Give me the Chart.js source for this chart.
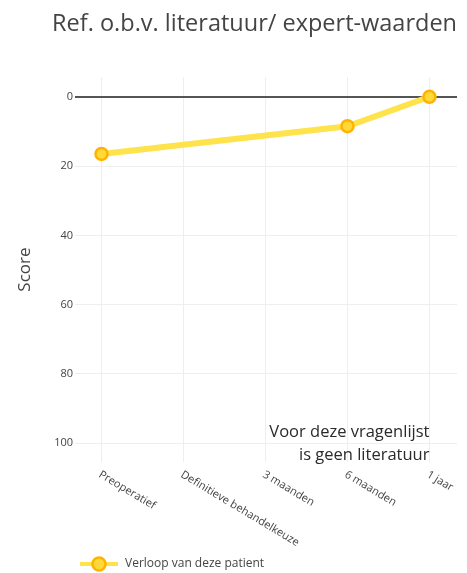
<!DOCTYPE html>
<html>
<head>
<meta charset="utf-8">
<script src="https://cdn.jsdelivr.net/npm/chart.js@4.4.1/dist/chart.umd.min.js"></script>
<style>
    html, body { margin: 0; padding: 0; background: #fff; }
</style>
</head>
<body>
<canvas id="graph01" width="467" height="573"></canvas>
<script>
const categories = ['Preoperatief', 'Definitieve behandelkeuze', '3 maanden', '6 maanden', '1 jaar'];
const scores = [16.5, null, null, 8.5, 0];
const yTicks = [0, 20, 40, 60, 80, 100];
const seriesName = 'Verloop van deze patient';
const chartTitle = 'Ref. o.b.v. literatuur/ expert-waarden';
const noteLines = ['Voor deze vragenlijst', 'is geen literatuur'];

const FONT = "'Open Sans', 'DejaVu Sans', sans-serif";
const TEXT_COLOR = '#444';
const LINE_COLOR = '#ffe34d';
const POINT_FILL = '#ffd83a';
const POINT_BORDER = '#ffb300';

const line01 = document.getElementById('graph01');

// legend icon: line with a marker, like the reference
const legendIcon = document.createElement('canvas');
legendIcon.width = 40;
legendIcon.height = 18;
const ictx = legendIcon.getContext('2d');
ictx.strokeStyle = LINE_COLOR;
ictx.lineWidth = 4;
ictx.beginPath();
ictx.moveTo(1, 9);
ictx.lineTo(39, 9);
ictx.stroke();
ictx.beginPath();
ictx.arc(20, 9, 6.5, 0, Math.PI * 2);
ictx.fillStyle = POINT_FILL;
ictx.fill();
ictx.lineWidth = 2.5;
ictx.strokeStyle = POINT_BORDER;
ictx.stroke();

const extras = {
    id: 'extras',
    afterLayout(chart) {
        // move legend item right and a bit down
        const l = chart.legend;
        l.left += 75;
        l.right += 75;
        l.top += 7;
        l.bottom += 7;
    },
    afterDraw(chart) {
        const ctx = chart.ctx;
        const x = chart.scales.x;
        const area = chart.chartArea;

        // rotated category labels
        ctx.save();
        ctx.font = '11px ' + FONT;
        ctx.fillStyle = TEXT_COLOR;
        ctx.textAlign = 'left';
        ctx.textBaseline = 'top';
        categories.forEach((c, i) => {
            ctx.save();
            ctx.translate(x.getPixelForValue(i) + 1, area.bottom + 7);
            ctx.rotate(31 * Math.PI / 180);
            ctx.fillText(c, 0, 0);
            ctx.restore();
        });
        ctx.restore();

        // note
        ctx.save();
        ctx.font = '16.5px ' + FONT;
        ctx.fillStyle = '#2a2a2a';
        ctx.textAlign = 'right';
        ctx.textBaseline = 'alphabetic';
        const nx = x.getPixelForValue(categories.length - 1);
        ctx.fillText(noteLines[0], nx, area.bottom - 25);
        ctx.fillText(noteLines[1], nx, area.bottom - 2);
        ctx.restore();
    }
};

new Chart(line01, {
    type: 'line',
    data: {
        datasets: [{
            label: seriesName,
            data: scores.map((v, i) => ({ x: i, y: v })),
            spanGaps: true,
            borderColor: LINE_COLOR,
            borderWidth: 6,
            pointRadius: 6,
            pointBorderWidth: 2.5,
            pointBackgroundColor: POINT_FILL,
            pointBorderColor: POINT_BORDER,
            tension: 0
        }]
    },
    options: {
        responsive: false,
        animation: false,
        layout: {
            padding: { top: 0, right: 10, bottom: 0, left: 0 }
        },
        plugins: {
            title: {
                display: true,
                text: chartTitle,
                align: 'end',
                color: TEXT_COLOR,
                font: { family: FONT, size: 23.5, weight: 'normal' },
                padding: { top: 10, bottom: 39 }
            },
            legend: {
                position: 'bottom',
                align: 'start',
                labels: {
                    usePointStyle: true,
                    pointStyle: legendIcon,
                    pointStyleWidth: 40,
                    padding: 4,
                    color: TEXT_COLOR,
                    font: { family: FONT, size: 12 }
                }
            },
            tooltip: { enabled: false }
        },
        scales: {
            x: {
                type: 'linear',
                min: -0.323,
                max: 4.336,
                afterBuildTicks: scale => {
                    scale.ticks = categories.map((c, i) => ({ value: i }));
                },
                afterFit: scale => { scale.height = 85; },
                ticks: { display: false },
                border: { display: false },
                grid: { color: '#eeeeee', lineWidth: 1, drawTicks: false }
            },
            y: {
                reverse: true,
                min: -5.65,
                max: 105.4,
                afterBuildTicks: scale => {
                    scale.ticks = yTicks.map(v => ({ value: v }));
                },
                afterFit: scale => { scale.width = 75; },
                ticks: {
                    padding: 2,
                    color: TEXT_COLOR,
                    font: { family: FONT, size: 11 }
                },
                border: { display: false },
                grid: {
                    drawTicks: false,
                    color: ctx => ctx.tick && ctx.tick.value === 0 ? '#555' : '#eeeeee',
                    lineWidth: ctx => ctx.tick && ctx.tick.value === 0 ? 2 : 1
                },
                title: {
                    display: true,
                    text: 'Score',
                    color: TEXT_COLOR,
                    font: { family: FONT, size: 17 },
                    padding: { top: 15, bottom: 0 }
                }
            }
        }
    },
    plugins: [extras]
});
</script>
</body>
</html>
